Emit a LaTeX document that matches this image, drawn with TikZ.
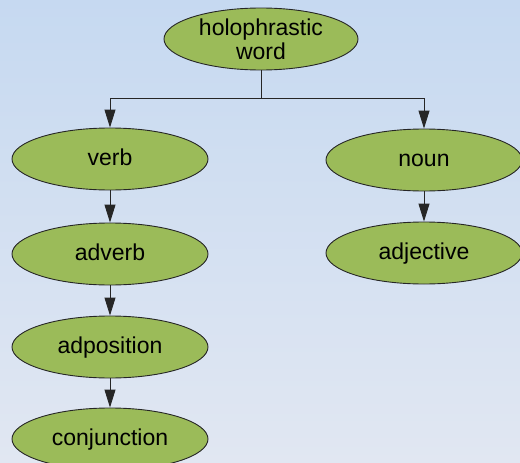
\documentclass[tikz,border=0pt]{standalone}
\usepackage{fontspec}
\setmainfont{Liberation Sans}
\usetikzlibrary{shapes.geometric,arrows.meta}
\definecolor{leaf}{HTML}{9BBB59}
\definecolor{bgtop}{HTML}{C6D9F1}
\definecolor{bgbot}{HTML}{E1E7F2}
\begin{document}
\begin{tikzpicture}[x=1pt,y=-1pt,
  posbox/.style={ellipse,draw=black!85,line width=0.9pt,fill=leaf,minimum width=196pt,minimum height=62pt,inner sep=0pt,font=\fontsize{23}{24}\selectfont,align=center},
  oneline/.style={posbox,text height=16pt,text depth=4pt},
  conn/.style={line width=0.9pt,draw=black!85},
  arr/.style={conn,-{Triangle[length=18pt,width=11pt]}}]
\shade[top color=bgtop,bottom color=bgbot] (0,0) rectangle (520,463);
\useasboundingbox (0,0) rectangle (520,463);
\node[posbox,minimum width=194pt] (hw) at (261,39) {holophrastic\\word};
\node[oneline] (verb) at (110,159) {verb};
\node[oneline] (noun) at (424,160) {noun};
\node[oneline] (adverb) at (110,254) {adverb};
\node[oneline] (adj) at (424,253) {adjective};
\node[oneline] (adpos) at (110,347) {adposition};
\node[oneline] (conj) at (110,439) {conjunction};
\coordinate (j) at (261,98);
\draw[conn] (hw.south) -- (j);
\draw[arr] (j) -| (verb.north);
\draw[arr] (j) -| (noun.north);
\draw[arr] (verb) -- (adverb);
\draw[arr] (noun) -- (adj);
\draw[arr] (adverb) -- (adpos);
\draw[arr] (adpos) -- (conj);
\end{tikzpicture}
\end{document}
